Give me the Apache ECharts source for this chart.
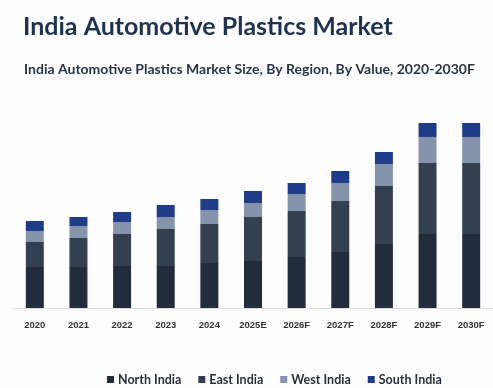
<!DOCTYPE html>
<html>
<head>
<meta charset="utf-8">
<script src="https://cdn.jsdelivr.net/npm/echarts@6/dist/echarts.min.js"></script>
<style>
  html, body { margin: 0; padding: 0; background: #fdfdfd; }
  #chart { width: 493px; height: 388px; }
</style>
</head>
<body>
<div id="chart"></div>
<script>
// Years shown on the category axis
const years = ['2020', '2021', '2022', '2023', '2024', '2025E', '2026F', '2027F', '2028F', '2029F', '2030F'];

// Market size by region (stacked from the bottom up)
const northIndia = [41, 41, 42, 42, 45, 47, 51, 56, 64, 74, 74];
const eastIndia  = [25, 29, 32, 37, 39, 44, 46, 51, 58, 71, 71];
const westIndia  = [11, 12, 12, 12, 14, 14, 17, 18, 22, 26, 26];
const southIndia = [10, 9, 10, 12, 11, 12, 11, 12, 12, 14, 14];

const regionNames = ['North India', 'East India', 'West India', 'South India'];
const regionColors = ['#222c3c', '#343f52', '#8594ab', '#1f3c88'];
const regionValues = [northIndia, eastIndia, westIndia, southIndia];

const chart = echarts.init(document.getElementById('chart'), null, { renderer: 'canvas' });

chart.setOption({
  backgroundColor: '#fdfdfd',
  animation: false,
  title: [
    {
      text: 'India Automotive Plastics Market',
      left: 18,
      top: 9,
      textStyle: { fontFamily: 'Lato', fontWeight: 'bold', fontSize: 25, color: '#1f3350' }
    },
    {
      text: 'India Automotive Plastics Market Size, By Region, By Value, 2020-2030F',
      left: 19,
      top: 57,
      textStyle: { fontFamily: 'Lato', fontWeight: 'bold', fontSize: 14, color: '#2a3546' }
    }
  ],
  legend: {
    data: regionNames,
    left: 102,
    top: 368,
    itemWidth: 7,
    itemHeight: 7,
    itemGap: 17,
    icon: 'rect',
    textStyle: { fontFamily: 'Lato', fontWeight: 'bold', fontSize: 12.5, color: '#2a2f3a', padding: [0, 0, 0, -1] }
  },
  grid: { left: 13, right: -9, top: 108, bottom: 80 },
  xAxis: {
    type: 'category',
    data: years,
    axisLine: { show: true, lineStyle: { color: '#dcdcdc', width: 1 } },
    axisTick: { show: false },
    axisLabel: { fontFamily: 'Liberation Sans', fontWeight: 'bold', fontSize: 9.5, color: '#333', margin: 12, interval: 0 }
  },
  yAxis: {
    type: 'value',
    min: 0,
    max: 200,
    show: false,
    splitLine: { show: false }
  },
  series: regionNames.map((name, i) => ({
    name: name,
    type: 'bar',
    stack: 'region',
    barWidth: 18,
    itemStyle: { color: regionColors[i] },
    data: regionValues[i]
  }))
});
</script>
</body>
</html>
